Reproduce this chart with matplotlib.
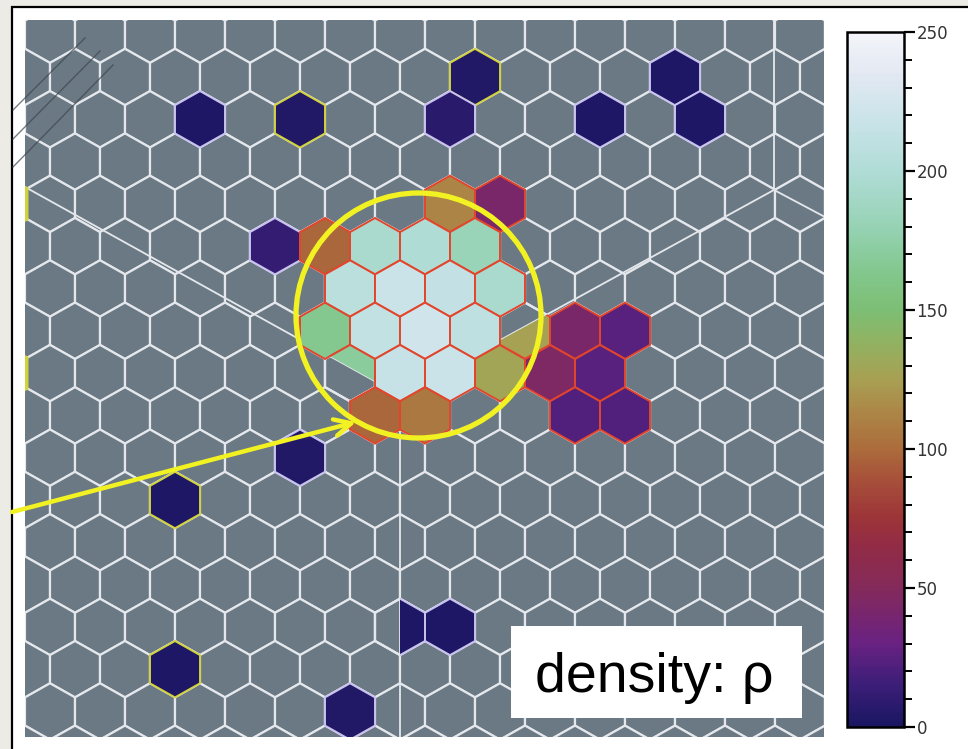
import numpy as np
import matplotlib
matplotlib.use("Agg")
import matplotlib.pyplot as plt
from matplotlib.colors import LinearSegmentedColormap, Normalize
from matplotlib.patches import Polygon, Rectangle, Ellipse
from matplotlib.cm import ScalarMappable
from matplotlib.ticker import MultipleLocator

# ---------------- data ----------------
# coloured cells of the hexagonal map: row index, column index, density value, outline kind
cell_rows = [1, 1,
             2, 2, 2, 2, 2,
             4, 4,
             5, 5, 5, 5, 5,
             6, 6, 6, 6,
             7, 7, 7, 7, 7, 7, 7,
             8, 8, 8, 8, 8, 8,
             9, 9, 9, 9,
             10, 11, 14, 14, 15, 16,
             4, 8]
cell_cols = [9, 13,
             3, 5, 8, 11, 13,
             8, 9,
             5, 6, 7, 8, 9,
             6, 7, 8, 9,
             6, 7, 8, 9, 10, 11, 12,
             6, 7, 8, 9, 10, 11,
             7, 8, 11, 12,
             5, 3, 7, 8, 3, 6,
             -1, -1]
cell_values = [3, 2,
               2, 3, 7, 2, 2,
               112, 42,
               12, 98, 195, 200, 182,
               207, 218, 213, 195,
               165, 212, 222, 210, 125, 42, 25,
               170, 215, 218, 128, 45, 25,
               98, 106, 22, 22,
               3, 2, 2, 2, 2, 3,
               2, 2]
cell_outline = ["yellow", "lavender",
                "lavender", "yellow", "lavender", "lavender", "lavender",
                "red", "red",
                "lavender", "red", "red", "red", "red",
                "red", "red", "red", "red",
                "red", "red", "red", "red", "red", "red", "red",
                "red", "red", "red", "red", "red", "red",
                "red", "red", "red", "red",
                "lavender", "yellow", "lavender", "lavender", "yellow", "lavender",
                "yellow", "yellow"]
# part of the cell that is visible (the map is a composite of overlapping tiles)
cell_part = ["all"] * len(cell_rows)
cell_part[22] = "below"   # row 7, col 10
cell_part[25] = "above"   # row 8, col 6
cell_part[37] = "right"   # row 14, col 7

n_rows = 18
n_cols = 18

cbar_ticks = [0, 50, 100, 150, 200, 250]
label_text = "density: \u03c1"

# colormap anchors (value, colour)
cmap_values = [0, 15, 30, 50, 65, 75, 90, 100, 115, 125, 140, 150, 165, 180, 200, 220, 235, 250]
cmap_colors = ["#1a1662", "#3c1e78", "#6a2282", "#842a5a", "#922c46", "#9c3438",
               "#a8523a", "#ac6c3c", "#ac8a48", "#a8a052", "#8eb464", "#7cbe74",
               "#84c890", "#96d2b4", "#b0dcd6", "#cce4ea", "#e2e8f2", "#f4f4fa"]

# coarse tile boundary lines (hex-grid data units)
tile_x = [[0.5, 8.0], [8.0, 15.48], [8.0, 8.0], [15.48, 15.48], [15.48, 16.5]]
tile_y = [[3.60, 8.52], [8.52, 3.67], [8.52, 16.7], [3.67, -0.4], [3.67, 4.31]]

# ---------------- style / layout ----------------
W, H, DPI = 968, 749, 100
GRID_L, GRID_R, GRID_T, GRID_B = 25, 824, 20, 737
COL_PX, ROW_PX, ROW0_PX = 50.0, 42.3, 34.7

cmap = LinearSegmentedColormap.from_list(
    "dens", [(v / 250.0, c) for v, c in zip(cmap_values, cmap_colors)])
norm = Normalize(0, 250)

fig = plt.figure(figsize=(W / DPI, H / DPI), dpi=DPI, facecolor="#ecebe6")

# background frame (pixel coordinates)
bg = fig.add_axes([0, 0, 1, 1])
bg.set_xlim(0, W)
bg.set_ylim(H, 0)
bg.axis("off")
bg.add_patch(Rectangle((12, 7), W, H, facecolor="white", edgecolor="black", lw=1.6))

# hexagonal map axes
ax = fig.add_axes([GRID_L / W, (H - GRID_B) / H, (GRID_R - GRID_L) / W, (GRID_B - GRID_T) / H])
ax.set_xlim(GRID_L / COL_PX, GRID_R / COL_PX)
ax.set_ylim((GRID_B - ROW0_PX) / ROW_PX, (GRID_T - ROW0_PX) / ROW_PX)
ax.axis("off")

hex_dx = np.array([0, 0.5, 0.5, 0, -0.5, -0.5])
hex_dy = np.array([-2 / 3, -1 / 3, 1 / 3, 2 / 3, 1 / 3, -1 / 3])


def center(r, c):
    return c + (1.0 if r % 2 == 0 else 0.5), r


for r in range(-1, n_rows):
    for c in range(-1, n_cols):
        cx, cy = center(r, c)
        ax.add_patch(Polygon(np.column_stack([cx + hex_dx, cy + hex_dy]), closed=True,
                             facecolor="#6b7984", edgecolor="#e4e8ec", lw=1.6, zorder=1))

for i in range(len(tile_x)):
    ax.plot(tile_x[i], tile_y[i], color="#e4e8ec", lw=1.3, zorder=1.5)

edge_map = {"red": "#e2452c", "lavender": "#c9c2f0", "yellow": "#d2d23c"}
# region polygons for partially visible cells
reg_above = Polygon([[0, -1], [0, 3.27], [8.0, 8.52], [17, 2.7], [17, -1]], closed=True,
                    transform=ax.transData)
reg_below = Polygon([[0, 3.27], [8.0, 8.52], [17, 2.7], [17, 18], [0, 18]], closed=True,
                    transform=ax.transData)
reg_right = Rectangle((8.0, -1), 10, 20, transform=ax.transData)
regions = {"above": reg_above, "below": reg_below, "right": reg_right}

for r, c, v, o, part in zip(cell_rows, cell_cols, cell_values, cell_outline, cell_part):
    cx, cy = center(r, c)
    lw = 5.0 if c < 0 else 1.4
    p = Polygon(np.column_stack([cx + hex_dx, cy + hex_dy]), closed=True,
                facecolor=cmap(norm(v)), edgecolor=edge_map[o], lw=lw, zorder=3)
    ax.add_patch(p)
    if part != "all":
        p.set_clip_path(regions[part])
        p.set_edgecolor("none")
        q = Polygon(np.column_stack([cx + hex_dx, cy + hex_dy]), closed=True,
                    facecolor="none", edgecolor="#e4e8ec", lw=1.6, zorder=2.9)
        ax.add_patch(q)
        q2 = Polygon(np.column_stack([cx + hex_dx, cy + hex_dy]), closed=True,
                     facecolor="none", edgecolor=edge_map[o], lw=1.4, zorder=3.1)
        ax.add_patch(q2)
        q2.set_clip_path(regions[part])

# overlay (pixel coordinates) for annotations
fg = fig.add_axes([0, 0, 1, 1], zorder=5)
fg.set_xlim(0, W)
fg.set_ylim(H, 0)
fg.axis("off")
fg.patch.set_alpha(0)

CIRCLE_XY, CIRCLE_R = (418.5, 315.5), 122.5
fg.add_patch(Ellipse(CIRCLE_XY, 2 * CIRCLE_R, 2 * CIRCLE_R, facecolor="none",
                     edgecolor="#f2f222", lw=3.8))
ARROW_FROM, ARROW_TO = (12, 512), (356, 422)
fg.annotate("", xy=ARROW_TO, xytext=ARROW_FROM,
            arrowprops=dict(arrowstyle="->", color="#f2f222", lw=3.2, mutation_scale=30,
                            shrinkA=0, shrinkB=0))

HATCH_X = [[13, 85], [13, 100], [13, 113]]
HATCH_Y = [[110, 38], [139, 51], [167, 65]]
for hx, hy in zip(HATCH_X, HATCH_Y):
    fg.plot(hx, hy, color="#3e454c", lw=1.0, alpha=0.7)

BOX = (511, 626, 291, 92)
fg.add_patch(Rectangle(BOX[:2], BOX[2], BOX[3], facecolor="white", edgecolor="none"))
fg.text(BOX[0] + BOX[2] / 2 - 2, 692, label_text, fontsize=40, family=["Liberation Sans", "DejaVu Sans"],
        ha="center", va="baseline", color="black")

# colorbar
cax = fig.add_axes([847 / W, (H - 727) / H, 57 / W, (727 - 32) / H])
sm = ScalarMappable(norm=norm, cmap=cmap)
cb = fig.colorbar(sm, cax=cax, ticks=cbar_ticks)
cb.ax.yaxis.set_minor_locator(MultipleLocator(10))
cb.ax.tick_params(which="major", direction="out", length=8, width=1.6, color="black",
                  labelsize=12, labelcolor="#333333", pad=1)
cb.ax.tick_params(which="minor", direction="out", length=6, width=1.4, color="black")
cb.outline.set_linewidth(1.8)

fig.savefig("out.png", dpi=DPI, facecolor=fig.get_facecolor())
